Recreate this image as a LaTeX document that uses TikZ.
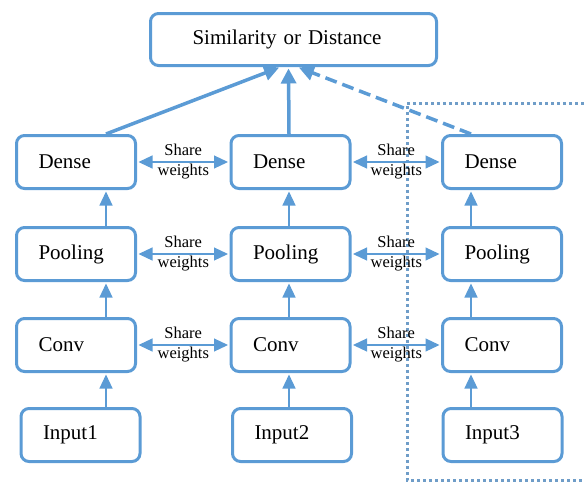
\documentclass[tikz,border=0pt]{standalone}
\usepackage{fontspec}
\setmainfont{Liberation Serif}
\usetikzlibrary{arrows.meta}
\definecolor{boxblue}{HTML}{5B9BD5}
\definecolor{dotblue}{HTML}{6F9DC8}

\begin{document}
\begin{tikzpicture}[x=1pt, y=-1pt,
    layer/.style={draw=boxblue, line width=3pt, rounded corners=8pt, fill=white, minimum height=53pt, text width=75pt, inner xsep=22pt, align=left, font=\fontsize{21}{24}\selectfont},
    flow/.style={draw=boxblue, line width=1.2pt, shorten >=1.5pt, -{Triangle[length=14pt, width=13pt]}},
    share/.style={draw=boxblue, line width=1.2pt, shorten >=1.5pt, shorten <=1.5pt, {Triangle[length=14pt, width=13pt]}-{Triangle[length=14pt, width=13pt]}},
    merge/.style={draw=boxblue, line width=3.5pt, shorten >=1.5pt, -{Triangle[length=15pt, width=15pt]}},
    sharelbl/.style={align=center, inner sep=0pt, font=\fontsize{16.5}{20}\selectfont}]
    \useasboundingbox (0,0) rectangle (584,483);

    % third branch frame
    \draw[dotblue, line width=3pt, dash pattern=on 3pt off 3pt] (584,103) -- (407,103) -- (407,480) -- (584,480);

    \node[layer, text width=202pt, inner xsep=42pt, minimum height=52pt] (top) at (293.5,39.5) {Similarity or Distance};

    \node[layer] (dense1) at (76,162) {Dense};
    \node[layer] (pool1) at (76,254) {Pooling};
    \node[layer] (conv1) at (76,345) {Conv};
    \node[layer] (in1) at (80.5,435) {Input1};

    \node[layer] (dense2) at (290.5,162) {Dense};
    \node[layer] (pool2) at (290.5,254) {Pooling};
    \node[layer] (conv2) at (290.5,345) {Conv};
    \node[layer] (in2) at (292,435) {Input2};

    \node[layer] (dense3) at (502,162) {Dense};
    \node[layer] (pool3) at (502,254) {Pooling};
    \node[layer] (conv3) at (502,345) {Conv};
    \node[layer] (in3) at (502.5,435) {Input3};

    \coordinate (ax1) at (106,0);
    \coordinate (ax2) at (289,0);
    \coordinate (ax3) at (471,0);

    \draw[flow] (in1.north -| ax1) -- (conv1.south -| ax1);
    \draw[flow] (conv1.north -| ax1) -- (pool1.south -| ax1);
    \draw[flow] (pool1.north -| ax1) -- (dense1.south -| ax1);
    \draw[flow] (in2.north -| ax2) -- (conv2.south -| ax2);
    \draw[flow] (conv2.north -| ax2) -- (pool2.south -| ax2);
    \draw[flow] (pool2.north -| ax2) -- (dense2.south -| ax2);
    \draw[flow] (in3.north -| ax3) -- (conv3.south -| ax3);
    \draw[flow] (conv3.north -| ax3) -- (pool3.south -| ax3);
    \draw[flow] (pool3.north -| ax3) -- (dense3.south -| ax3);

    \draw[share] (dense1.east) -- (dense2.west) node[midway, sharelbl] (sw1) {Share\\weights};
    \draw[share] (pool1.east) -- (pool2.west) node[midway, sharelbl] (sw2) {Share\\weights};
    \draw[share] (conv1.east) -- (conv2.west) node[midway, sharelbl] (sw3) {Share\\weights};
    \draw[share] (dense2.east) -- (dense3.west) node[midway, sharelbl] (sw4) {Share\\weights};
    \draw[share] (pool2.east) -- (pool3.west) node[midway, sharelbl] (sw5) {Share\\weights};
    \draw[share] (conv2.east) -- (conv3.west) node[midway, sharelbl] (sw6) {Share\\weights};

    \draw[merge] (dense1.north -| ax1) -- ([xshift=-13pt]top.south);
    \draw[merge] (dense2.north -| ax2) -- ([xshift=-5pt]top.south);
    \draw[merge, dash pattern=on 12pt off 6pt] (dense3.north -| ax3) -- ([xshift=4pt]top.south);
\end{tikzpicture}
\end{document}
